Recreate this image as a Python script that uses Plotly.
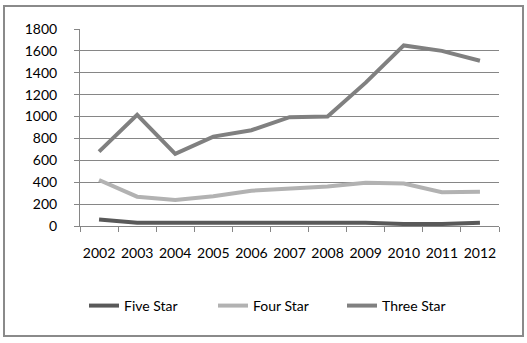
import plotly.graph_objects as go

years = ["2002", "2003", "2004", "2005", "2006", "2007", "2008", "2009", "2010", "2011", "2012"]
five_star = [60, 30, 30, 30, 30, 30, 30, 30, 18, 18, 30]
four_star = [420, 268, 238, 272, 323, 340, 360, 396, 388, 308, 314]
three_star = [680, 1016, 659, 817, 875, 994, 1000, 1310, 1650, 1600, 1510]

series = [
    ("Five Star", five_star, "#595959"),
    ("Four Star", four_star, "#b2b2b2"),
    ("Three Star", three_star, "#808080"),
]

fig = go.Figure()
for name, vals, color in series:
    fig.add_trace(go.Scatter(x=years, y=vals, name=name, mode="lines",
                             line=dict(color=color, width=4)))

font = dict(family="Lato, Carlito, Calibri, sans-serif", size=14, color="#000000")

fig.update_layout(
    width=527, height=343,
    margin=dict(l=80, r=28, t=29, b=117, autoexpand=False),
    paper_bgcolor="white", plot_bgcolor="white",
    font=font,
    showlegend=True,
    legend=dict(orientation="h", x=4 / 419, xanchor="left", y=-0.406, yanchor="middle",
                entrywidth=84, entrywidthmode="pixels", font=font,
                itemwidth=30, tracegroupgap=0),
    xaxis=dict(type="category", showgrid=False, showline=True, linecolor="#868686", linewidth=1,
               ticks="outside", ticklen=5, tickcolor="#868686", tickson="boundaries",
               tickfont=font, range=[-0.5, 10.5], tickangle=0, automargin=False,
               ticklabelstandoff=14),
    yaxis=dict(range=[0, 1800], dtick=200, showgrid=True, gridcolor="#868686", gridwidth=1,
               showline=True, linecolor="#868686", linewidth=1, ticks="outside", ticklen=5,
               tickcolor="#868686", tickfont=font, zeroline=False, ticklabelstandoff=14,
               automargin=False),
)

fig.add_shape(type="rect", xref="paper", yref="paper",
              x0=(4 - 80) / 419, x1=(523 - 80) / 419,
              y0=(226 - 336) / 197, y1=(226 - 6) / 197,
              line=dict(color="#8a8a8a", width=2), fillcolor="rgba(0,0,0,0)", layer="below")

fig.write_html("out.html", config={"displayModeBar": False},
               post_script="document.body.style.margin='0';")
